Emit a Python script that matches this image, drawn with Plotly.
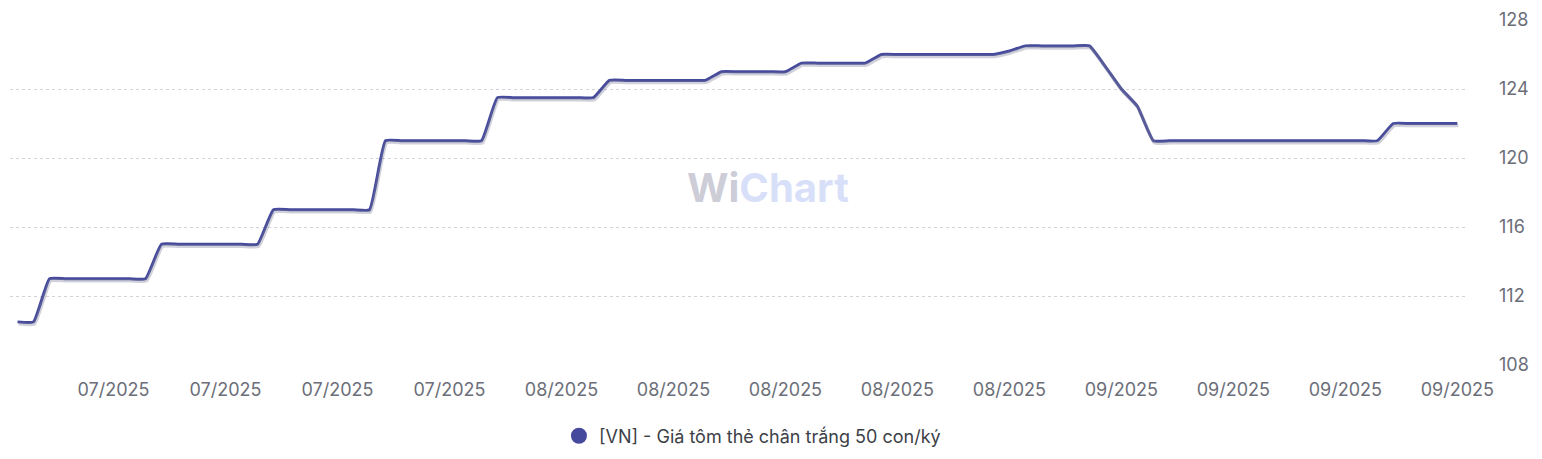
import pandas as pd
import plotly.graph_objects as go

# ---- data ----
dates = pd.date_range("2025-06-28", "2025-09-26", freq="D")
prices = [
    110.5, 110.5,
    113, 113, 113, 113, 113, 113, 113,
    115, 115, 115, 115, 115, 115, 115,
    117, 117, 117, 117, 117, 117, 117,
    121, 121, 121, 121, 121, 121, 121,
    123.5, 123.5, 123.5, 123.5, 123.5, 123.5, 123.5,
    124.5, 124.5, 124.5, 124.5, 124.5, 124.5, 124.5,
    125, 125, 125, 125, 125,
    125.5, 125.5, 125.5, 125.5, 125.5,
    126, 126, 126, 126, 126, 126, 126, 126,
    126.2,
    126.5, 126.5, 126.5, 126.5, 126.5,
    125.3, 124, 123,
    121, 121, 121, 121, 121, 121, 121, 121, 121, 121, 121, 121, 121, 121, 121,
    122, 122, 122, 122, 122,
]
series_name = "[VN] - Giá tôm thẻ chân trắng 50 con/ký"
y_ticks = [108, 112, 116, 120, 124, 128]

LINE = "#464a9c"
FONT = "Inter"
FS = 18

x_range = ["2025-06-27 12:40", "2025-09-26 16:00"]
y_range = [108, 128]

fig = go.Figure()

SM = 0.4
# shadow (drawn on a slightly offset overlay axis pair)
fig.add_trace(go.Scatter(
    x=dates, y=prices, mode="lines", xaxis="x2", yaxis="y2",
    line=dict(color="rgba(120,122,150,0.35)", width=3.5, shape="spline", smoothing=SM),
    hoverinfo="skip", showlegend=False,
))
# main line
fig.add_trace(go.Scatter(
    x=dates, y=prices, mode="lines",
    line=dict(color=LINE, width=3, shape="spline", smoothing=SM),
    showlegend=False, name=series_name,
))
# legend entry (circle marker)
fig.add_trace(go.Scatter(
    x=[None], y=[None], mode="markers", name=series_name,
    marker=dict(color=LINE, size=17, symbol="circle"),
))

px_day = 16.0
shift_x_days = 1.0 / px_day
shift_y = 2.0 / 17.2

xr0 = pd.Timestamp(x_range[0]); xr1 = pd.Timestamp(x_range[1])
dx = pd.Timedelta(days=shift_x_days)

fig.update_layout(
    width=1534, height=451,
    margin=dict(l=2, r=74, t=12, b=94, autoexpand=False),
    paper_bgcolor="white", plot_bgcolor="white",
    font=dict(family=FONT, color="#6b6e78", size=FS),
    xaxis=dict(
        type="date", range=x_range, automargin=False,
        tick0="2025-07-04", dtick=7 * 86400000, tickformat="%m/%Y",
        showgrid=False, zeroline=False, showline=False,
        ticks="", ticklabelstandoff=12,
        tickfont=dict(size=FS, color="#6b6e78"),
    ),
    yaxis=dict(
        range=y_range, side="right", tickvals=y_ticks, automargin=False,
        showgrid=True, gridcolor="#d2d2d8", griddash="dot", gridwidth=1,
        zeroline=False, showline=False, ticks="", ticklabelstandoff=30,
        tickfont=dict(size=FS, color="#6b6e78"),
    ),
    xaxis2=dict(
        type="date", range=[xr0 - dx, xr1 - dx], overlaying="x",
        visible=False,
    ),
    yaxis2=dict(
        range=[y_range[0] + shift_y, y_range[1] + shift_y], overlaying="y",
        visible=False,
    ),
    legend=dict(
        orientation="h", x=0.3765, xanchor="left", y=-0.206, yanchor="middle",
        font=dict(size=FS, color="#3d3f47", family=FONT),
        bgcolor="rgba(0,0,0,0)",
    ),
    showlegend=True,
    annotations=[dict(
        xref="paper", yref="paper", x=(768 - 10) / 1458, y=(365 - 187) / 345,
        text="<span style='color:#cdcdd8'>Wi</span><span style='color:#d8dff8'>Chart</span>",
        showarrow=False, font=dict(size=40, family=FONT, weight="bold"),
        xanchor="center", yanchor="middle",
    )],
)

fig.write_html("out.html")
